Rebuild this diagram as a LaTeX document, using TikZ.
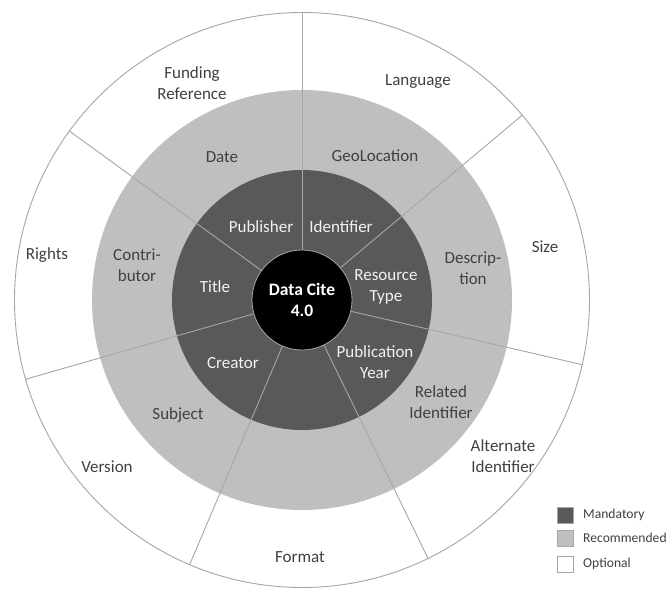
\documentclass[tikz,border=0pt]{standalone}
\usepackage{fontspec}
\setmainfont{Carlito}
\definecolor{ringdark}{HTML}{595959}
\definecolor{ringgray}{HTML}{BFBFBF}
\definecolor{edgegray}{HTML}{A6A6A6}
\definecolor{txtdark}{HTML}{404040}
\definecolor{txtlight}{HTML}{F2F2F2}
\begin{document}
\begin{tikzpicture}[x=1pt,y=1pt,
  lbl/.style={font=\fontsize{17}{20.5}\selectfont, text=txtdark, align=center, inner sep=0pt},
  lbldark/.style={lbl, text=txtlight},
  legtxt/.style={font=\fontsize{13.6}{16}\selectfont, text=txtdark, anchor=west, inner sep=0pt},
  legbox/.style={draw=edgegray, line width=0.8pt, minimum size=16pt, inner sep=0pt},
  radial/.style={draw=edgegray, line width=0.9pt}]
\useasboundingbox (0,0) rectangle (670,590);
\coordinate (c) at (302,290);
\fill[white] (c) circle (287.5);
\draw[edgegray, line width=0.9pt] (c) circle (287.5);
\fill[ringgray] (c) circle (210);
\fill[ringdark] (c) circle (130);
\foreach \a in {90,144,196,247,296,347,40}
  \draw[radial] ([shift={(\a:50)}]c) -- ([shift={(\a:287.5)}]c);
\node[circle, fill=black, draw=edgegray, line width=0.8pt, minimum size=100pt, inner sep=0pt,
      text=white, align=center, font=\bfseries\fontsize{17.5}{21}\selectfont] (core) at (c) {Data Cite\\4.0};
% optional ring
\node[lbl] (funding) at (192,507) {Funding\\Reference};
\node[lbl] (language) at (418,508) {Language};
\node[lbl] (size) at (545,343) {Size};
\node[lbl] (rights) at (47,335) {Rights};
\node[lbl] (alternate) at (503,134) {Alternate\\Identifier};
\node[lbl] (version) at (107,123) {Version};
\node[lbl] (format) at (300,33) {Format};
% recommended ring
\node[lbl] (date) at (222,433) {Date};
\node[lbl] (geo) at (375,434) {GeoLocation};
\node[lbl] (contrib) at (137,325) {Contri-\\butor};
\node[lbl] (descr) at (473,322) {Descrip-\\tion};
\node[lbl] (related) at (441,188) {Related\\Identifier};
\node[lbl] (subject) at (178,175) {Subject};
% mandatory ring
\node[lbldark] (publisher) at (261,363) {Publisher};
\node[lbldark] (identifier) at (341,363) {Identifier};
\node[lbldark] (title) at (215,303) {Title};
\node[lbldark] (restype) at (386,303) {Resource\\Type};
\node[lbldark] (creator) at (233,227) {Creator};
\node[lbldark] (pubyear) at (375,228) {Publication\\Year};
% legend
\node[legbox, fill=ringdark] (lm) at (565,75) {};
\node[legbox, fill=ringgray] (lr) at (565,52) {};
\node[legbox, fill=white] (lo) at (565,26) {};
\node[legtxt] (tm) at (583,75) {Mandatory};
\node[legtxt] (tr) at (583,52) {Recommended};
\node[legtxt] (to) at (583,26) {Optional};
\end{tikzpicture}
\end{document}
